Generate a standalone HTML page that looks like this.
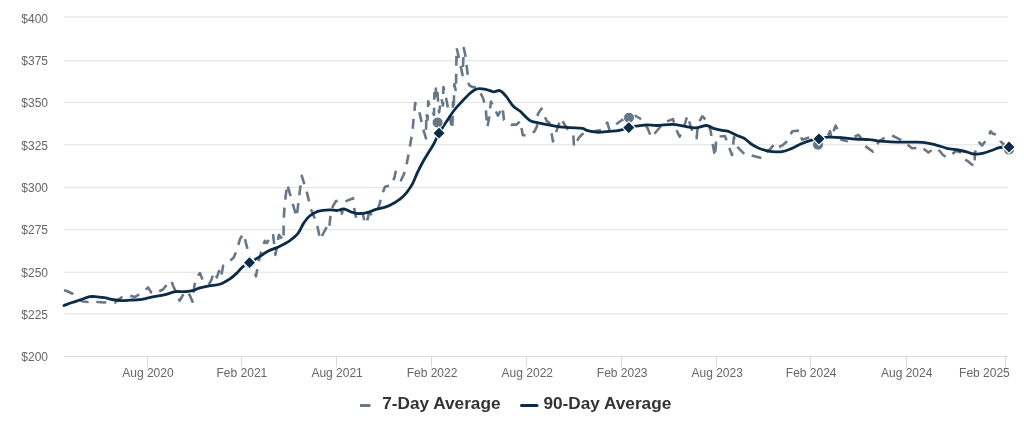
<!DOCTYPE html>
<html><head><meta charset="utf-8"><title>Chart</title>
<style>
html,body{margin:0;padding:0;background:#fff;width:1024px;height:424px;overflow:hidden}
svg{display:block;filter:blur(0.3px)}
.ax{font-family:"Liberation Sans",Arial,sans-serif;font-size:12px;fill:#666}
.lg{font-family:"Liberation Sans",Arial,sans-serif;font-size:17.2px;font-weight:bold;fill:#333}
</style></head><body>
<svg width="1024" height="424" viewBox="0 0 1024 424">
<rect width="1024" height="424" fill="#fff"/>
<path d="M64 17.0 H1008" stroke="#e0e0e0" stroke-width="1"/>
<path d="M64 60.7 H1008" stroke="#e0e0e0" stroke-width="1"/>
<path d="M64 102.4 H1008" stroke="#e0e0e0" stroke-width="1"/>
<path d="M64 144.8 H1008" stroke="#e0e0e0" stroke-width="1"/>
<path d="M64 187.6 H1008" stroke="#e0e0e0" stroke-width="1"/>
<path d="M64 229.7 H1008" stroke="#e0e0e0" stroke-width="1"/>
<path d="M64 272.2 H1008" stroke="#e0e0e0" stroke-width="1"/>
<path d="M64 313.8 H1008" stroke="#e0e0e0" stroke-width="1"/>
<path d="M64 356.6 H1008" stroke="#d8d8d8" stroke-width="1"/>
<path d="M147.5 356.5 V367" stroke="#d8d8d8" stroke-width="1"/>
<path d="M241.5 356.5 V367" stroke="#d8d8d8" stroke-width="1"/>
<path d="M336.5 356.5 V367" stroke="#d8d8d8" stroke-width="1"/>
<path d="M431.5 356.5 V367" stroke="#d8d8d8" stroke-width="1"/>
<path d="M526.5 356.5 V367" stroke="#d8d8d8" stroke-width="1"/>
<path d="M621.5 356.5 V367" stroke="#d8d8d8" stroke-width="1"/>
<path d="M716.5 356.5 V367" stroke="#d8d8d8" stroke-width="1"/>
<path d="M810.5 356.5 V367" stroke="#d8d8d8" stroke-width="1"/>
<path d="M906.5 356.5 V367" stroke="#d8d8d8" stroke-width="1"/>
<path d="M1005.5 356.5 V367" stroke="#d8d8d8" stroke-width="1"/>
<text x="48" y="22.6" text-anchor="end" class="ax">$400</text>
<text x="48" y="65.0" text-anchor="end" class="ax">$375</text>
<text x="48" y="107.3" text-anchor="end" class="ax">$350</text>
<text x="48" y="149.7" text-anchor="end" class="ax">$325</text>
<text x="48" y="192.0" text-anchor="end" class="ax">$300</text>
<text x="48" y="234.3" text-anchor="end" class="ax">$275</text>
<text x="48" y="276.7" text-anchor="end" class="ax">$250</text>
<text x="48" y="319.1" text-anchor="end" class="ax">$225</text>
<text x="48" y="361.4" text-anchor="end" class="ax">$200</text>
<text x="147.9" y="376.6" text-anchor="middle" class="ax">Aug 2020</text>
<text x="241.9" y="376.6" text-anchor="middle" class="ax">Feb 2021</text>
<text x="337.09999999999997" y="376.6" text-anchor="middle" class="ax">Aug 2021</text>
<text x="432.0" y="376.6" text-anchor="middle" class="ax">Feb 2022</text>
<text x="527.3" y="376.6" text-anchor="middle" class="ax">Aug 2022</text>
<text x="622.1999999999999" y="376.6" text-anchor="middle" class="ax">Feb 2023</text>
<text x="717.1999999999999" y="376.6" text-anchor="middle" class="ax">Aug 2023</text>
<text x="811.1999999999999" y="376.6" text-anchor="middle" class="ax">Feb 2024</text>
<text x="906.6999999999999" y="376.6" text-anchor="middle" class="ax">Aug 2024</text>
<text x="1009.8" y="376.6" text-anchor="end" class="ax">Feb 2025</text>
<polyline points="64,290.3 68,291.5 73,294 78,299 83,301.5 88,302 93,301 98,302 104,302.5 110,302 115,302.5 119,299 124,296 130,295.7 135,297 140,293.8 144.2,291 148,287.5 151.3,292.4 155,294 159.8,291 163,289.5 166,285.8 170,281.6 171.2,280.5 173.2,286 176.5,293 179.7,300.7 184,293.2 187,291 190.3,296.4 192.5,301.7 194.5,285 196.7,277.3 199.9,273 203,280.5 206,284 209.4,283.7 211.6,279.4 213.7,272 216.9,277.3 219,271 221,277.3 223.2,265.6 226.4,262.5 229.6,261.4 233.9,257.2 237,249.7 240,239 243.4,233.8 245.5,241.2 248.7,254 251,262 254,270 256,276.3 258.5,262 261,252.5 264.8,240.8 267,243 269.5,238.4 273,233.7 275.4,254.9 278.9,234.9 283.6,240.8 283.6,220.7 284.8,203 287.2,184.2 291.9,200.7 296.6,217.2 297.8,207.7 300.1,188.9 301.8,175.9 307.2,193.6 310.8,208.9 316.7,223 320.2,239.6 323.5,233 327.3,226 329,229 331,212 333,206 336.2,200.8 339.5,206 342,213.7 344,202 353,198.2 354.4,209.8 356.3,218.9 359,213 362.8,214 364.7,221.5 366.5,224 368.6,214.4 372,214 377,212.4 379.7,203.3 381.8,195.2 385,186.7 388,186 391.4,185.6 394.6,177 395.6,171.8 401,180.3 404,174 406.6,164.6 409.9,146.5 412.4,131.6 415.2,103 419,110.4 423.3,129.5 426,138.5 426.3,113 427.6,119.6 428.2,101.2 430.4,108.3 434,115 434.3,93.4 435.4,101.2 436,85.7 437.5,93.4 439,112.5 441.5,98.4 443,105.5 443.4,87 445.3,94 448.8,112.5 452.3,129.5 453,102 453.7,109.7 454.3,84.2 455.9,91.3 456.6,48 458.4,55.5 462.6,75.3 463.8,48 465.5,56.2 469,85.2 472.5,87 478,88 483,98 485.7,107.7 486.5,118.4 487.4,127.2 489.2,117.5 490,109.5 491,101.5 495.4,110.4 498,115.7 502.5,106.9 504,120 511.3,124.6 516.6,124.6 520.2,121 522.8,135.2 529,135.2 534.3,131.6 537,126.3 537.9,114 541.4,108.6 544,115 546.7,121 549.4,122.8 551.2,131.6 553,141.4 555,135 558.2,126.3 560.6,118.4 563,122 567,128.3 573.3,134.7 574,146.7 579,137.5 584,132.5 589.6,131.8 595,131 602.3,129.7 607.3,122.6 609.4,129.7 612,128 616.5,124 622,120 629.2,117.7 636,116 642,119.8 647.6,128.3 651.3,137.5 658.4,129 664,122.6 673,119.1 675.4,127.6 679.6,136.8 682.4,131.1 685.3,122.6 687.4,115.6 690.2,124.8 693,133.2 696.6,138.2 698,124 702.2,116.3 707.2,121.2 710.7,131.1 712,140 715,156.6 716.4,136.8 724.9,136 728.4,145.3 732,155 734,137 736,144 738.5,148.2 745.6,155.3 751.2,155.3 761.8,158.1 766,153 771,148.2 775.3,143.2 779,147 782.3,145.4 788,140.4 792.2,131.2 800,130.5 802,139.7 809.2,137.6 813,142 817.7,144.7 822,141 826,140 830,131.2 831.3,137.6 835.6,125.6 838.4,131.2 841.2,139.7 846.9,141.1 852,138 858.2,134.8 860.3,136.9 862.4,144 873,151.7 876,146 879.4,141.1 883.6,138.3 888,137 892.1,135.5 897.8,138.3 901,140 904.9,142.5 912,148.2 917,148 921.3,146.9 928.4,152.5 932,150 936.9,148.3 940.4,151.8 943,155 946.8,157.5 952.4,153.9 956,151 961,152.5 963.7,157.5 966,160 969.4,162.4 974.4,166.7 975,152.5 979.3,142.6 982.1,145.5 988.5,137 990.6,131.3 993.5,134.1 994.9,134.1 999.1,137 1000.5,141.2 1003.4,144 1009,149.5" fill="none" stroke="#687787" stroke-width="2.6" stroke-dasharray="10,8" stroke-linejoin="round"/>
<path d="M64 305.5 C65.3 305.0 69.3 303.4 72 302.5 C74.7 301.6 77.0 301.0 80 300 C83.0 299.0 86.9 297.2 89.7 296.7 C92.5 296.2 94.5 296.6 97 296.8 C99.5 297.0 102.1 297.2 104.6 297.7 C107.1 298.1 109.2 299.0 112 299.5 C114.8 300.0 118.4 300.6 121.4 300.7 C124.4 300.8 127.0 300.4 130 300.2 C133.0 300.0 136.4 299.9 139.2 299.6 C142.0 299.3 144.5 298.7 147 298.2 C149.5 297.7 151.2 297.2 154.1 296.6 C156.9 296.0 160.5 295.6 164.1 294.8 C167.7 294.0 172.3 292.2 175.4 291.7 C178.5 291.2 180.3 291.7 182.4 291.6 C184.5 291.5 186.2 291.5 188.1 291.3 C190.0 291.1 191.7 290.9 193.7 290.3 C195.7 289.7 197.4 288.6 200 287.9 C202.6 287.2 205.7 286.5 209.1 285.9 C212.5 285.2 216.9 285.2 220.5 284 C224.1 282.8 227.6 280.4 230.4 278.5 C233.2 276.6 235.3 274.5 237.4 272.5 C239.5 270.5 241.1 268.2 243.1 266.5 C245.1 264.8 247.3 263.8 249.5 262.5 C251.7 261.2 253.4 260.5 256.5 258.6 C259.6 256.7 264.6 253.0 268.3 251 C272.0 249.0 275.4 248.4 278.9 246.7 C282.4 245.0 286.4 243.0 289.5 240.8 C292.6 238.6 295.4 236.6 297.8 233.7 C300.2 230.8 301.7 226.0 303.7 223.1 C305.7 220.2 307.2 218.0 309.6 216 C312.0 214.0 314.5 212.3 317.8 211.3 C321.1 210.3 326.4 209.9 329.6 209.8 C332.8 209.7 334.6 210.6 337 210.5 C339.4 210.4 341.4 208.7 344 209 C346.6 209.3 349.9 211.6 352.4 212.4 C354.9 213.2 356.3 213.7 358.9 213.7 C361.5 213.7 365.4 213.1 368 212.4 C370.6 211.8 372.1 210.6 374.5 209.8 C376.9 209.1 379.7 208.7 382.3 207.9 C384.9 207.2 387.1 206.8 390 205.3 C392.9 203.9 397.2 201.3 400 199.2 C402.8 197.1 404.6 195.1 406.6 192.6 C408.6 190.1 410.4 187.7 412.2 184.4 C414.0 181.1 415.6 176.4 417.3 172.8 C419.0 169.2 420.7 166.0 422.3 163 C423.9 160.0 425.4 157.7 427.2 154.7 C429.0 151.7 431.6 147.6 433 145.2 C434.4 142.8 434.6 142.2 435.6 140.2 C436.6 138.2 437.0 136.6 439 133.2 C441.0 129.8 445.0 123.8 447.5 120 C450.0 116.2 451.7 113.5 454 110.5 C456.3 107.5 458.9 104.8 461.5 102 C464.1 99.2 467.3 95.8 469.5 93.8 C471.7 91.8 472.8 90.9 474.5 90 C476.2 89.1 477.5 88.7 479.5 88.6 C481.5 88.5 484.1 89.1 486.5 89.6 C488.9 90.1 491.4 91.6 493.6 91.8 C495.8 92.0 497.7 89.9 499.8 90.6 C501.9 91.3 503.8 93.6 506 96.2 C508.2 98.8 510.7 103.5 513.1 106 C515.5 108.5 518.1 109.5 520.2 111.3 C522.3 113.1 523.7 115.0 525.5 116.6 C527.3 118.2 528.4 119.9 530.8 121 C533.1 122.1 536.6 122.5 539.6 123.1 C542.6 123.7 545.4 124.2 548.5 124.8 C551.6 125.4 555.0 126.1 558.5 126.6 C562.0 127.1 565.8 127.3 569.8 127.6 C573.8 127.9 579.7 127.8 582.5 128.3 C585.3 128.8 584.4 129.8 586.8 130.4 C589.2 131.1 592.9 132.0 596.7 132.2 C600.5 132.4 605.6 131.7 609.4 131.4 C613.2 131.1 616.1 131.1 619.3 130.4 C622.5 129.8 625.7 128.2 628.8 127.5 C631.9 126.8 634.7 126.4 637.7 125.9 C640.7 125.5 643.8 124.9 647 124.8 C650.2 124.7 652.8 125.6 657 125.5 C661.2 125.4 668.0 124.2 672.5 124.3 C677.0 124.4 680.0 125.6 683.8 126.2 C687.6 126.8 691.4 128.0 695.2 127.9 C699.0 127.8 703.5 125.4 706.5 125.5 C709.5 125.6 710.9 127.5 713.5 128.3 C716.1 129.1 719.6 129.9 722 130.4 C724.4 130.9 725.2 130.2 727.7 131.1 C730.2 131.9 734.3 134.3 737 135.5 C739.7 136.7 741.7 136.9 744.1 138.3 C746.5 139.7 748.8 142.4 751.2 144 C753.6 145.6 755.9 146.8 758.3 147.9 C760.7 149.0 763.0 149.7 765.4 150.3 C767.8 150.9 769.6 151.5 772.4 151.7 C775.2 151.9 779.2 152.2 782.3 151.7 C785.4 151.2 787.7 150.2 790.8 148.9 C793.9 147.6 797.6 145.3 800.7 144 C803.8 142.7 806.2 141.6 809.2 140.8 C812.2 140.0 815.2 139.6 818.4 139 C821.6 138.4 824.7 137.4 828.5 137.2 C832.3 137.0 836.7 137.3 841.2 137.6 C845.7 137.9 850.7 138.7 855.4 139 C860.1 139.3 865.5 139.3 869.5 139.7 C873.5 140.0 875.9 140.8 879.4 141.1 C882.9 141.4 886.5 141.6 890.7 141.8 C895.0 142.0 899.6 142.1 904.9 142.2 C910.2 142.3 917.6 141.9 922.7 142.3 C927.8 142.7 931.5 143.8 935.5 144.8 C939.5 145.8 943.0 147.4 946.8 148.3 C950.6 149.2 954.8 149.4 958.1 150 C961.4 150.6 964.0 151.1 966.6 151.8 C969.2 152.5 970.8 153.8 973.6 154 C976.4 154.2 980.2 153.9 983.5 153.2 C986.8 152.5 990.9 150.6 993.5 149.7 C996.1 148.8 996.5 148.1 999.1 147.6 C1001.7 147.1 1007.4 146.7 1009 146.5" fill="none" stroke="#0c2b46" stroke-width="2.8" stroke-linejoin="round" stroke-linecap="round"/>
<circle cx="249.5" cy="263" r="5.5" fill="#687787" stroke="#fff" stroke-width="1"/>
<circle cx="437.6" cy="122.5" r="5.5" fill="#687787" stroke="#fff" stroke-width="1"/>
<circle cx="629" cy="117.7" r="5.5" fill="#687787" stroke="#fff" stroke-width="1"/>
<circle cx="818" cy="144.7" r="5.5" fill="#687787" stroke="#fff" stroke-width="1"/>
<circle cx="1009" cy="149.5" r="5.5" fill="#687787" stroke="#fff" stroke-width="1"/>
<path d="M249.5 256.3 L255.8 262.6 L249.5 268.90000000000003 L243.2 262.6 Z" fill="#0c2b46" stroke="#fff" stroke-width="1.2"/>
<path d="M439 126.89999999999999 L445.3 133.2 L439 139.5 L432.7 133.2 Z" fill="#0c2b46" stroke="#fff" stroke-width="1.2"/>
<path d="M628.8 121.3 L635.0999999999999 127.6 L628.8 133.9 L622.5 127.6 Z" fill="#0c2b46" stroke="#fff" stroke-width="1.2"/>
<path d="M819 132.5 L825.3 138.8 L819 145.10000000000002 L812.7 138.8 Z" fill="#0c2b46" stroke="#fff" stroke-width="1.2"/>
<path d="M1009 140.7 L1015.3 147 L1009 153.3 L1002.7 147 Z" fill="#0c2b46" stroke="#fff" stroke-width="1.2"/>
<path d="M360 405.5 H370.5" stroke="#687787" stroke-width="3"/>
<text x="382.3" y="409" class="lg">7-Day Average</text>
<path d="M521.5 405.5 H537" stroke="#0c2b46" stroke-width="3" stroke-linecap="round"/>
<text x="543.5" y="409" class="lg">90-Day Average</text>
</svg>
</body></html>
